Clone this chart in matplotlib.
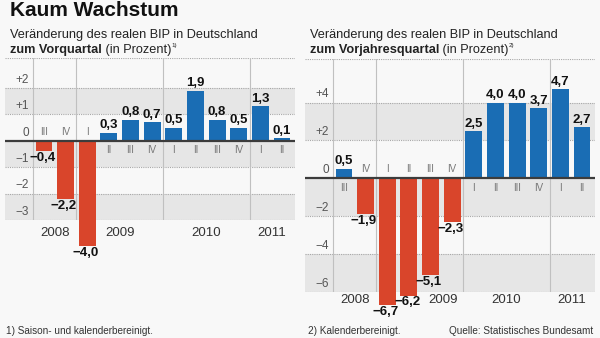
import numpy as np
import matplotlib
matplotlib.use('Agg')
import matplotlib.pyplot as plt
from matplotlib import transforms

plt.rcParams['font.family'] = ['Liberation Sans', 'DejaVu Sans']

# data (GDP change in %, quarters III/2008 .. II/2011)
quarters = ['III', 'IV', 'I', 'II', 'III', 'IV', 'I', 'II', 'III', 'IV', 'I', 'II']
years = ['2008', '2009', '2010', '2011']
vorquartal = [-0.4, -2.2, -4.0, 0.3, 0.8, 0.7, 0.5, 1.9, 0.8, 0.5, 1.3, 0.1]
vorjahr = [0.5, -1.9, -6.7, -6.2, -5.1, -2.3, 2.5, 4.0, 4.0, 3.7, 4.7, 2.7]
ticks_left = [2, 1, 0, -1, -2, -3]
ticks_right = [4, 2, 0, -2, -4, -6]
tick_labels_left = ['+2', '+1', '0', '\u22121', '\u22122', '\u22123']
tick_labels_right = ['+4', '+2', '0', '\u22122', '\u22124', '\u22126']

W, H = 600, 338
BLUE = '#1a6db4'
RED = '#d9452b'
BAND = '#e6e6e6'

fig = plt.figure(figsize=(W / 100, H / 100), dpi=100, facecolor='#f8f8f8')


def px_rect(x0, y0, x1, y1):
    return [x0 / W, 1 - y1 / H, (x1 - x0) / W, (y1 - y0) / H]


def fmt(v):
    s = f'{abs(v):.1f}'.replace('.', ',')
    return ('\u2212' + s) if v < 0 else s


def panel(rect, values, ylim, bands, ticks, tlabels, year_x, year_off):
    ax = fig.add_axes(rect)
    ax.set_axis_off()
    x = np.arange(len(values))
    ax.set_xlim(-1.8, 11.6)
    ax.set_ylim(*ylim)
    for lo, hi in bands:
        ax.axhspan(lo, hi, color=BAND, lw=0, zorder=0)
    for t in ticks:
        if t != 0:
            ax.axhline(t, color='#a8a8a8', lw=0.8, ls=(0, (1, 1)), zorder=1)
    ax.axhline(ylim[1], color='#a8a8a8', lw=0.8, ls=(0, (1, 1)), zorder=1)
    for xv in [-0.5, 1.5, 5.5, 9.5]:
        ax.axvline(xv, color='#c0c0c0', lw=0.8, zorder=1)
    cols = [BLUE if v >= 0 else RED for v in values]
    ax.bar(x, values, width=0.78, color=cols, zorder=2, clip_on=False)
    ax.axhline(0, color='#3c3c3c', lw=1.6, zorder=3)

    for t, lab in zip(ticks, tlabels):
        ax.annotate(lab, (-0.7, t), xytext=(0, 1.5), textcoords='offset points',
                    ha='right', va='bottom', fontsize=8.5, color='#555555')

    for i, (v, q) in enumerate(zip(values, quarters)):
        if v >= 0:
            ax.annotate(q, (i, 0), xytext=(0, -7), textcoords='offset points',
                        ha='center', va='center', fontsize=7, color='#777777')
            ax.annotate(fmt(v), (i, v), xytext=(0, 1), textcoords='offset points',
                        ha='center', va='bottom', fontsize=9.5, fontweight='bold',
                        color='#111111')
        else:
            ax.annotate(q, (i, 0), xytext=(0, 6.5), textcoords='offset points',
                        ha='center', va='center', fontsize=7, color='#777777')
            ax.annotate(fmt(v), (i, v), xytext=(-1.2, -0.5), textcoords='offset points',
                        ha='center', va='top', fontsize=9.5, fontweight='bold',
                        color='#111111', annotation_clip=False, zorder=4)

    trans = transforms.blended_transform_factory(ax.transData, ax.transAxes)
    for yx, yl in zip(year_x, years):
        ax.annotate(yl, (yx, 0), xycoords=trans, xytext=(0, -year_off),
                    textcoords='offset points', ha='center', va='center',
                    fontsize=9.5, color='#333333', annotation_clip=False)
    return ax


panel(px_rect(5, 58, 295, 220), vorquartal, (-3, 3.13),
      [(1, 2), (-1, 0), (-3, -2)], ticks_left, tick_labels_left,
      [0.5, 3.5, 7.5, 10.5], 9)
panel(px_rect(305, 59, 595, 292), vorjahr, (-6, 6.3),
      [(2, 4), (-2, 0), (-6, -4)], ticks_right, tick_labels_right,
      [0.5, 4.6, 7.5, 10.5], 6)

# header (slightly cut at the top, as in the original)
fig.text(10 / W, 1 - 15.5 / H, 'Kaum Wachstum', fontsize=15, fontweight='bold',
         va='baseline', color='#111111')

renderer = fig.canvas.get_renderer()


def text_line(x_px, y_px, parts):
    x = x_px / W
    for s, dy, kw in parts:
        t = fig.text(x, 1 - (y_px - dy) / H, s, va='baseline', color='#222222', **kw)
        bb = t.get_window_extent(renderer)
        x = bb.x1 / W


for x0, bold, note in [(10, 'zum Vorquartal', '1)'), (310, 'zum Vorjahresquartal', '2)')]:
    fig.text(x0 / W, 1 - 38 / H, 'Ver\u00e4nderung des realen BIP in Deutschland',
             fontsize=9.2, va='baseline', color='#222222')
    text_line(x0, 53, [(bold, 0, dict(fontsize=9.2, fontweight='bold')),
                       (' (in Prozent)', 0, dict(fontsize=9.2)),
                       (note, 6, dict(fontsize=4.5))])

# footnotes
fig.text(6 / W, 1 - 334 / H, '1) Saison- und kalenderbereinigt.', fontsize=7.2,
         va='baseline', color='#333333')
fig.text(308 / W, 1 - 334 / H, '2) Kalenderbereinigt.', fontsize=7.2,
         va='baseline', color='#333333')
fig.text(593 / W, 1 - 334 / H, 'Quelle: Statistisches Bundesamt', fontsize=7.2,
         va='baseline', ha='right', color='#333333')

fig.savefig('out.png', dpi=100, facecolor=fig.get_facecolor())
